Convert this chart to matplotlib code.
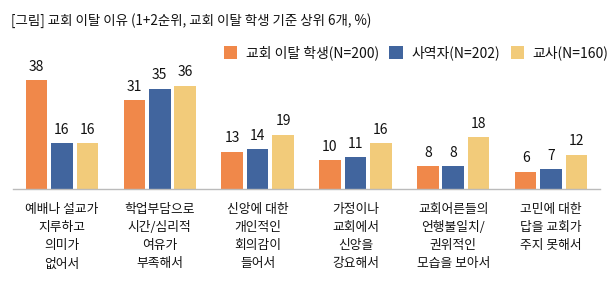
import matplotlib
matplotlib.use("Agg")
import matplotlib.pyplot as plt
import numpy as np

plt.rcParams['font.family'] = ['Noto Sans CJK KR', 'DejaVu Sans']

categories = ["예배나 설교가\n지루하고\n의미가\n없어서",
              "학업부담으로\n시간/심리적\n여유가\n부족해서",
              "신앙에 대한\n개인적인\n회의감이\n들어서",
              "가정이나\n교회에서\n신앙을\n강요해서",
              "교회어른들의\n언행불일치/\n권위적인\n모습을 보아서",
              "고민에 대한\n답을 교회가\n주지 못해서"]
series_names = ["교회 이탈 학생(N=200)", "사역자(N=202)", "교사(N=160)"]
students = [38, 31, 13, 10, 8, 6]
ministers = [16, 35, 14, 11, 8, 7]
teachers = [16, 36, 19, 16, 18, 12]
colors = ["#F0884A", "#41659E", "#F2CB7A"]
txt = '#111111'

W, H = 612, 284
fig = plt.figure(figsize=(W/100, H/100), dpi=100)
ax = fig.add_axes([13/W, (H-189)/H, 587/W, 129/H])

x = np.arange(len(categories))
width = 0.22
offs = [-0.26, 0, 0.26]
for vals, off, c, name in zip([students, ministers, teachers], offs, colors, series_names):
    bars = ax.bar(x + off, vals, width, color=c, label=name)
    for b, v in zip(bars, vals):
        ax.text(b.get_x() + b.get_width()/2, v + 2.2, str(v), ha='center', va='bottom',
                fontsize=10, color=txt)

ax.set_xlim(-0.5, len(categories) - 0.5)
ax.set_ylim(0, 45)
ax.set_yticks([])
ax.set_xticks(x)
ax.set_xticklabels(categories, fontsize=9.2, linespacing=1.52, color=txt)
ax.tick_params(axis='x', length=0, pad=10)
for s in ['left', 'right', 'top']:
    ax.spines[s].set_visible(False)
ax.spines['bottom'].set_color('#BBBBBB')
ax.spines['bottom'].set_linewidth(1)

fig.text(11/W, 1 - 21/H, "[그림] 교회 이탈 이유 (1+2순위, 교회 이탈 학생 기준 상위 6개, %)",
         fontsize=9.7, ha='left', va='center', color=txt)

leg = ax.legend(loc='center left', bbox_to_anchor=(211/W, 1 - 53/H), bbox_transform=fig.transFigure,
                ncol=3, frameon=False, fontsize=10, handlelength=1.0, handleheight=1.0,
                columnspacing=0.75, handletextpad=0.6)
for t in leg.get_texts():
    t.set_color(txt)

fig.savefig("out.png", dpi=100)
